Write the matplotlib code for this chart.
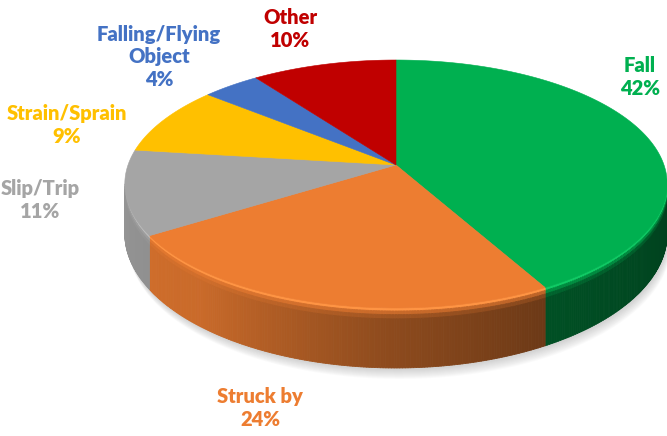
import numpy as np
import matplotlib
matplotlib.use("Agg")
import matplotlib.pyplot as plt
from matplotlib.collections import PolyCollection
from matplotlib.patches import Polygon
from matplotlib.colors import to_rgb

# ---- data ----
categories = ["Fall", "Struck by", "Slip/Trip", "Strain/Sprain", "Falling/Flying\nObject", "Other"]
values = [42, 24, 11, 9, 4, 10]
colors = ["#00B050", "#ED7D31", "#A5A5A5", "#FFC000", "#4472C4", "#C00000"]
label_xy = [(640, 77), (260, 408), (40, 200), (67, 125), (159, 57), (290, 29)]

W, H = 667, 436
fig = plt.figure(figsize=(6.67, 4.36), dpi=100)
ax = fig.add_axes([0, 0, 1, 1])
ax.set_xlim(0, W)
ax.set_ylim(H, 0)
ax.axis("off")

# projection of the pie (perspective-like)
CX, R = 396, 268
A, B, C = 165, -95.8, 0.1532
D0, K = 48, 1.34


def top(th):
    x = np.cos(th)
    t = np.sin(th)
    s = 1 / (1 + C * t)
    return CX + R * x * s, (A + B * t) * s


def depth(th):
    s = 1 / (1 + C * np.sin(th))
    return D0 * s ** K


def shade(th_deg):
    d = np.mod(th_deg, 360)
    return np.interp(d, [189, 230, 268, 300, 351], [0.9, 0.85, 0.6, 0.45, 0.36])


total = float(sum(values))
starts, ends = [], []
cum = 0.0
for v in values:
    s0 = 90 - 360 * cum / total
    cum += v
    starts.append(s0)
    ends.append(90 - 360 * cum / total)

# ---- soft shadow ----
th_all = np.radians(np.linspace(0, 360, 400))
xs, ys = top(th_all)
ys = ys + depth(th_all)
for k in range(10):
    ax.add_patch(Polygon(np.column_stack([xs + 1 + 0.3 * k, ys + 2 + k]), closed=True,
                         facecolor="#808080", edgecolor="none", alpha=0.035, zorder=1))

# ---- walls ----
vis_lo, vis_hi = -180 + np.degrees(np.arcsin(C)), -np.degrees(np.arcsin(C))
polys, fcs = [], []
for st, en, col in zip(starts, ends, colors):
    lo, hi = max(en, vis_lo), min(st, vis_hi)
    if lo >= hi:
        continue
    base = np.array(to_rgb(col))
    n = max(4, int((hi - lo) * 2))
    ths = np.linspace(hi, lo, n + 1)
    for a, b in zip(ths[:-1], ths[1:]):
        ta, tb = np.radians(a), np.radians(b)
        xa, ya = top(ta)
        xb, yb = top(tb)
        da, db = depth(ta), depth(tb)
        f = shade((a + b) / 2)
        hl = np.clip(base * 1.06 + 0.06, 0, 1)
        bands = [(0.0, 0.05, hl),
                 (0.05, 0.11, base * (0.25 + 0.75 * (0.5 + 0.5 * f))),
                 (0.11, 0.18, base * (0.6 * f + 0.4 * (0.5 + 0.5 * f))),
                 (0.18, 1.0, base * f)]
        for f0, f1, c in bands:
            polys.append([(xa, ya + f0 * da), (xb, yb + f0 * db), (xb, yb + f1 * db), (xa, ya + f1 * da)])
            fcs.append(np.clip(c, 0, 1))
pc = PolyCollection(polys, facecolors=fcs, edgecolors=fcs, linewidths=0.6, zorder=2)
ax.add_collection(pc)

# ---- top face ----
for st, en, col in zip(starts, ends, colors):
    n = max(4, int((st - en) * 2))
    th = np.radians(np.linspace(st, en, n + 1))
    x, y = top(th)
    pts = np.vstack([[CX, A], np.column_stack([x, y])])
    ax.add_patch(Polygon(pts, closed=True, facecolor=col, edgecolor=col, linewidth=0.4, zorder=3))

# ---- labels ----
for name, v, col, (lx, ly) in zip(categories, values, colors, label_xy):
    ax.text(lx, ly, f"{name}\n{v}%", color=col, fontsize=14.5, fontweight="heavy",
            family=["Lato", "DejaVu Sans"], ha="center", va="center", linespacing=1.2, zorder=5)

fig.savefig("out.png", dpi=100)
